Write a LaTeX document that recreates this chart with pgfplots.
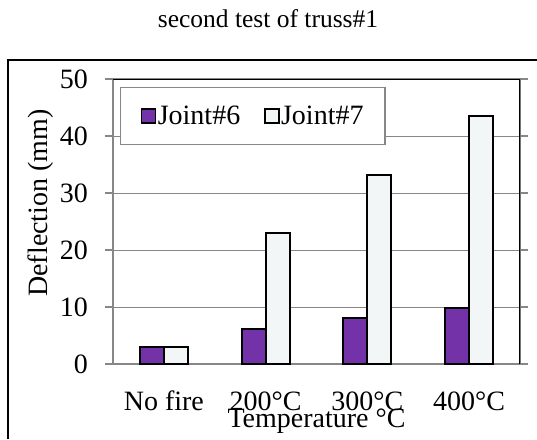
\documentclass[border=0pt]{standalone}
\usepackage{pgfplots}
\pgfplotsset{compat=1.18}
\usepackage{fontspec}
\setmainfont{Liberation Serif}
\definecolor{jsix}{RGB}{116,50,168}
\definecolor{jseven}{RGB}{243,246,246}
\definecolor{axgray}{RGB}{135,135,135}
\begin{document}
\begin{tikzpicture}[x=1pt,y=1pt]
\useasboundingbox (0,0) rectangle (537,439);
\draw[line width=1.2pt] (8,0) -- (8,379) -- (537,379);
\node[anchor=base, font=\fontsize{25.5}{28}\selectfont, inner sep=0pt] at (268,411) {second test of truss\#1};
\begin{axis}[
  at={(113pt,75pt)}, anchor=south west,
  scale only axis, width=407pt, height=285pt,
  ybar=0pt, bar width=24pt,
  xmin=-0.5, xmax=3.5, ymin=0, ymax=50,
  xtick=data, xticklabels={No fire,200°C,300°C,400°C},
  ytick={0,10,20,30,40,50},
  /pgf/number format/assume math mode=true,
  tick label style={font=\fontsize{28}{31}\selectfont},
  label style={font=\fontsize{28}{31}\selectfont},
  xtick style={draw=none},
  ytick style={draw=axgray, line width=1.2pt},
  tick align=outside, major tick length=8pt,
  axis line style={draw=axgray, line width=1.5pt},
  ymajorgrids, grid style={draw=axgray, line width=1pt},
  xticklabel style={anchor=base, yshift=-38pt, inner sep=0pt},
  yticklabel style={anchor=east, inner sep=0pt, xshift=-17pt},
  xlabel={Temperature °C},
  xlabel style={at={(axis description cs:0.5,0)}, anchor=base, yshift=-63pt, inner sep=0pt},
  ylabel={Deflection (mm)},
  ylabel style={at={(axis description cs:-0.162,0.565)}, anchor=base, rotate=0, inner sep=0pt},
  legend columns=2,
  legend image code/.code={\draw[#1, line width=1.8pt] (0pt,-7pt) rectangle (14pt,7pt);},
  legend style={at={(0.017,0.972)}, anchor=north west, draw=axgray, line width=1.2pt,
    font=\fontsize{28}{31}\selectfont, inner xsep=20pt, inner ysep=17pt,
    nodes={inner sep=1.5pt},
    /tikz/every even column/.append style={column sep=22pt}},
]
\addplot[fill=jsix, draw=black, line width=2pt] coordinates {(0,3.0) (1,6.2) (2,8.0) (3,9.9)};
\addplot[fill=jseven, draw=black, line width=2pt] coordinates {(0,3.0) (1,23.0) (2,33.2) (3,43.5)};
\legend{Joint\#6,Joint\#7}
\draw[black, line width=1.5pt] (rel axis cs:0,1) -- (rel axis cs:1,1) -- (rel axis cs:1,0);
\end{axis}
\end{tikzpicture}
\end{document}
